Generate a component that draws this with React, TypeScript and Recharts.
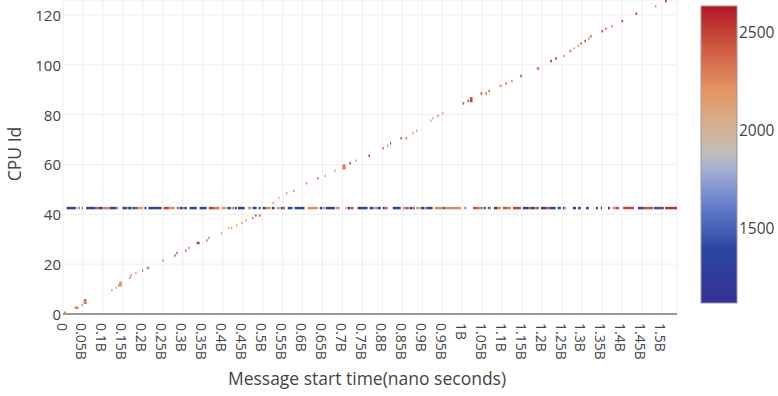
import React from 'react';
import { ScatterChart, Scatter, XAxis, YAxis, CartesianGrid, ReferenceArea } from 'recharts';

// ---- data ----
// x values in billions of nanoseconds
const xTicks = [0, 0.05, 0.1, 0.15, 0.2, 0.25, 0.3, 0.35, 0.4, 0.45, 0.5, 0.55, 0.6, 0.65, 0.7, 0.75, 0.8, 0.85, 0.9, 0.95, 1, 1.05, 1.1, 1.15, 1.2, 1.25, 1.3, 1.35, 1.4, 1.45, 1.5];
const yTicks = [0, 20, 40, 60, 80, 100, 120];
const colorbarTicks = [1500, 2000, 2500];
const colorMin = 1117;
const colorMax = 2633;
const xMax = 1.538;
const yMax = 126;

const LINE_CPU = 42;
const lineStart = [0.009,0.034,0.040,0.047,0.058,0.082,0.090,0.098,0.117,0.136,0.149,0.160,0.163,0.174,0.182,0.188,0.204,0.214,0.252,0.265,0.285,0.292,0.300,0.304,0.317,0.342,0.365,0.380,0.397,0.412,0.422,0.430,0.438,0.463,0.475,0.490,0.500,0.508,0.523,0.535,0.545,0.550,0.563,0.580,0.613,0.643,0.650,0.658,0.683,0.708,0.714,0.721,0.738,0.768,0.780,0.788,0.801,0.807,0.826,0.851,0.858,0.868,0.875,0.884,0.896,0.906,0.911,0.931,0.953,0.957,1.006,1.027,1.041,1.054,1.064,1.068,1.079,1.089,1.102,1.112,1.127,1.152,1.165,1.172,1.183,1.197,1.210,1.220,1.239,1.252,1.256,1.277,1.290,1.310,1.335,1.347,1.365,1.377,1.384,1.403,1.440,1.455,1.480,1.508];
const lineEnd = [0.032,0.037,0.042,0.050,0.082,0.090,0.098,0.117,0.134,0.138,0.160,0.163,0.172,0.182,0.188,0.200,0.209,0.247,0.265,0.280,0.290,0.300,0.304,0.310,0.335,0.360,0.380,0.392,0.410,0.420,0.428,0.435,0.455,0.472,0.485,0.495,0.508,0.520,0.530,0.543,0.550,0.556,0.575,0.605,0.638,0.649,0.656,0.681,0.693,0.713,0.720,0.728,0.763,0.778,0.788,0.796,0.806,0.813,0.846,0.858,0.866,0.874,0.881,0.894,0.905,0.910,0.926,0.953,0.957,0.997,1.009,1.041,1.052,1.059,1.067,1.072,1.089,1.097,1.112,1.122,1.147,1.165,1.172,1.182,1.192,1.210,1.220,1.234,1.247,1.256,1.260,1.285,1.297,1.317,1.340,1.350,1.370,1.384,1.393,1.430,1.455,1.478,1.505,1.538];
const lineValue = [1350,2250,1350,2450,1350,2400,1350,2300,1400,1350,1350,2250,1350,1350,2450,2200,1350,1350,2500,2250,2450,1350,2250,1350,1350,1350,2500,2300,2150,1350,2250,1350,1350,2200,1350,1350,1350,2250,1350,2200,1350,2450,1350,1350,2250,1350,2250,1350,2250,2250,1350,2450,1350,1350,2250,1350,1350,2450,1350,2250,2450,1350,2450,2150,1350,2450,1350,2250,1400,2250,1350,2450,2300,1350,1350,2450,1350,2250,2450,2300,2500,1350,2450,1350,2450,1350,2450,1350,1350,1350,2250,1350,1400,1350,1350,1350,1350,2250,2450,2500,1400,2450,1450,2550];

// diagonal messages: start time (B), cpu id, value, duration (B)
const diagTime = [0.003,0.029,0.046,0.052,0.052,0.121,0.131,0.138,0.141,0.141,0.166,0.169,0.181,0.198,0.210,0.249,0.279,0.284,0.306,0.314,0.335,0.359,0.364,0.396,0.414,0.421,0.434,0.447,0.457,0.474,0.481,0.491,0.525,0.539,0.559,0.577,0.609,0.637,0.655,0.680,0.700,0.700,0.717,0.732,0.765,0.800,0.812,0.819,0.845,0.858,0.875,0.885,0.920,0.925,0.938,0.950,1.001,1.013,1.019,1.019,1.046,1.058,1.066,1.094,1.108,1.123,1.145,1.187,1.220,1.233,1.254,1.269,1.279,1.289,1.296,1.306,1.316,1.321,1.349,1.358,1.374,1.399,1.434,1.484,1.508];
const diagCpu = [0,2,3,4,5,9,10,11,11,12,14,15,16,17,18,21,23,24,25,26,28,29,30,32,34,34,35,36,37,38,39,39,44,46,48,49,52,54,55,57,58,59,60,61,63,66,67,68,70,70,72,73,77,78,79,80,84,85,85,86,88,88,89,91,92,93,95,98,101,102,103,105,106,107,108,109,110,111,113,114,115,117,120,123,125];
const diagValue = [2350,2250,2300,2350,2350,2250,2150,2300,2250,2250,2300,2400,2250,2300,2300,2350,2550,2450,2450,2350,2550,2450,2350,2150,2150,2200,2250,2200,2250,2400,2400,2350,2250,2200,2250,2300,2300,2450,2200,2200,2300,2300,2450,2200,2500,2300,2250,2500,2400,2300,2200,2250,2150,2250,2300,2200,2450,2400,2500,2500,2450,2350,2500,2300,2300,2400,2350,2350,2450,2550,2350,2350,2250,2300,2350,2450,2400,2500,2450,2350,2400,2500,2550,2550,2550];
const diagDuration = [0.004,0.010,0.003,0.007,0.007,0.003,0.003,0.003,0.006,0.006,0.003,0.003,0.003,0.003,0.006,0.003,0.003,0.003,0.003,0.003,0.007,0.003,0.003,0.003,0.003,0.003,0.003,0.003,0.003,0.003,0.004,0.004,0.003,0.003,0.003,0.003,0.003,0.003,0.003,0.003,0.008,0.008,0.004,0.003,0.004,0.004,0.003,0.003,0.004,0.004,0.003,0.003,0.003,0.003,0.003,0.003,0.004,0.004,0.007,0.007,0.004,0.004,0.003,0.004,0.004,0.003,0.005,0.006,0.005,0.004,0.003,0.004,0.003,0.003,0.004,0.004,0.003,0.003,0.004,0.004,0.003,0.004,0.004,0.002,0.004];

// ---- colour scale ----
const colorStops: [number, number[]][] = [
  [0, [56, 48, 150]],
  [0.18, [42, 70, 160]],
  [0.35, [110, 135, 210]],
  [0.45, [165, 175, 210]],
  [0.5, [190, 190, 190]],
  [0.6, [215, 175, 145]],
  [0.72, [228, 148, 98]],
  [0.86, [205, 90, 65]],
  [1, [178, 24, 38]],
];

function colorOf(v: number) {
  let f = (v - colorMin) / (colorMax - colorMin);
  f = Math.max(0, Math.min(1, f));
  for (let i = 1; i < colorStops.length; i++) {
    const [f1, c1] = colorStops[i];
    const [f0, c0] = colorStops[i - 1];
    if (f <= f1) {
      const t = (f - f0) / (f1 - f0);
      const c = c0.map((a, k) => Math.round(a + (c1[k] - a) * t));
      return `rgb(${c[0]},${c[1]},${c[2]})`;
    }
  }
  const c = colorStops[colorStops.length - 1][1];
  return `rgb(${c[0]},${c[1]},${c[2]})`;
}

const B = 1e9;
const cells = [
  ...lineStart.map((s, i) => ({ x1: s * B, x2: lineEnd[i] * B, cpu: LINE_CPU, v: lineValue[i] })),
  ...diagTime.map((t, i) => ({ x1: t * B, x2: (t + diagDuration[i]) * B, cpu: diagCpu[i], v: diagValue[i] })),
];
const scatterData = diagTime.map((t, i) => ({ x: t * B, y: diagCpu[i] }));

const FONT = '"Open Sans", "DejaVu Sans", sans-serif';
const TXT = '#444';

function fmtX(v: number) {
  if (v === 0) return '0';
  return `${+(v / B).toFixed(2)}B`;
}

const XTick = (props: any) => {
  const { x, y, payload } = props;
  return (
    <text
      x={x - 1}
      y={y}
      transform={`rotate(90, ${x - 1}, ${y})`}
      textAnchor="start"
      dominantBaseline="central"
      fontFamily={FONT}
      fontSize={14}
      fill={TXT}
    >
      {fmtX(payload.value)}
    </text>
  );
};

const YTick = (props: any) => {
  const { x, y, payload } = props;
  return (
    <text x={x} y={y} textAnchor="end" dominantBaseline="central" fontFamily={FONT} fontSize={15} fill={TXT}>
      {payload.value}
    </text>
  );
};

const XTitle = (props: any) => {
  const vb = props.viewBox || { x: 63, y: 314, width: 614, height: 82 };
  return (
    <text x={vb.x + vb.width / 2 - 3} y={vb.y + 71} textAnchor="middle" fontFamily={FONT} fontSize={17.5} fill={TXT}>
      Message start time(nano seconds)
    </text>
  );
};

const YTitle = (props: any) => {
  const vb = props.viewBox || { x: 0, y: 0, width: 63, height: 314 };
  const cx = vb.x + 14;
  const cy = vb.y + vb.height / 2 - 3;
  return (
    <text x={cx} y={cy} transform={`rotate(-90, ${cx}, ${cy})`} textAnchor="middle" dominantBaseline="central" fontFamily={FONT} fontSize={17.5} fill={TXT}>
      CPU Id
    </text>
  );
};

const ColorBar = () => {
  const top = 6;
  const h = 297;
  const left = 701;
  const w = 36;
  const pos = (v: number) => top + ((colorMax - v) / (colorMax - colorMin)) * h;
  return (
    <svg width={778} height={396} style={{ position: 'absolute', left: 0, top: 0, pointerEvents: 'none' }}>
      <defs>
        <linearGradient id="cbar" x1="0" y1="0" x2="0" y2="1">
          {[...colorStops].reverse().map(([f, c], i) => (
            <stop key={i} offset={1 - f} stopColor={`rgb(${c[0]},${c[1]},${c[2]})`} />
          ))}
        </linearGradient>
      </defs>
      <rect x={left} y={top} width={w} height={h} fill="url(#cbar)" stroke="#999" strokeWidth={1} />
      {colorbarTicks.map((t) => (
        <text key={t} x={left + w + 2} y={pos(t)} dominantBaseline="central" fontFamily={FONT} fontSize={15.5} fill={TXT}>
          {t}
        </text>
      ))}
    </svg>
  );
};

export default function App() {
  return (
    <div style={{ position: 'absolute', left: 0, top: 0, width: 778, height: 396, background: '#fff' }}>
      <ScatterChart width={778} height={396} margin={{ top: 0, right: 101, bottom: 0, left: 0 }}>
        <CartesianGrid stroke="#eeeeee" strokeWidth={1} />
        <XAxis
          type="number"
          dataKey="x"
          domain={[0, xMax * B]}
          ticks={xTicks.map((t) => t * B)}
          interval={0}
          tick={<XTick />}
          tickLine={false}
          tickSize={0}
          tickMargin={9}
          axisLine={{ stroke: '#999', strokeWidth: 2 }}
          height={82}
          allowDataOverflow
          label={<XTitle />}
        />
        <YAxis
          type="number"
          dataKey="y"
          domain={[0, yMax]}
          ticks={yTicks}
          interval={0}
          tick={<YTick />}
          tickLine={false}
          axisLine={false}
          tickSize={0}
          tickMargin={2}
          width={63}
          allowDataOverflow
          label={<YTitle />}
        />
        {cells.map((c, i) => (
          <ReferenceArea
            key={i}
            x1={c.x1}
            x2={c.x2}
            y1={c.cpu}
            y2={c.cpu + 1}
            fill={colorOf(c.v)}
            fillOpacity={1}
            stroke="none"
            ifOverflow="visible"
          />
        ))}
        <Scatter data={scatterData} isAnimationActive={false} shape={() => <g />} />
      </ScatterChart>
      <ColorBar />
    </div>
  );
}
